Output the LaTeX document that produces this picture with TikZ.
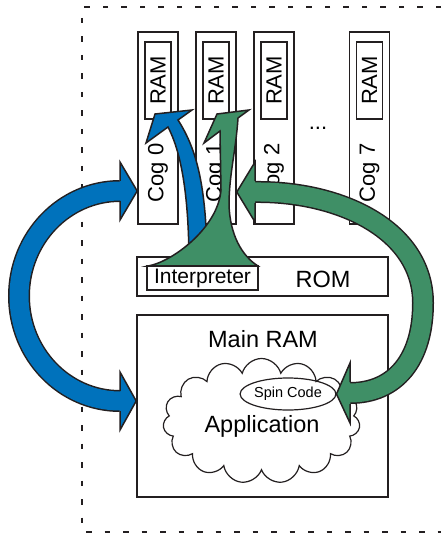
\documentclass[tikz,border=0pt]{standalone}
\usepackage{fontspec}
\setmainfont{Liberation Sans}
\usetikzlibrary{shapes.geometric, shapes.symbols, calc}

\definecolor{propblue}{RGB}{0,114,188}
\definecolor{propgreen}{RGB}{63,143,102}
\definecolor{ink}{RGB}{35,31,32}

\begin{document}
\begin{tikzpicture}[
        x=1pt, y=-1pt,
        box/.style={rectangle, draw=ink, line width=1.6pt, inner sep=0pt},
        cog/.style={box, minimum width=40pt, minimum height=192pt},
        ram/.style={box, rotate=90, minimum width=77pt, minimum height=26pt, font=\fontsize{22}{24}\selectfont},
        cogname/.style={rotate=90, font=\fontsize{22}{24}\selectfont},
        txt/.style={font=\fontsize{23.5}{26}\selectfont},
        band/.style={line width=22pt, draw=ink},
        bandfill/.style={line width=19pt},
        head/.style={draw=ink, line width=1.5pt},
        flare/.style={draw=ink, line width=1.5pt, line join=miter}
    ]
        \useasboundingbox (0,0) rectangle (441,537);

        % Dotted chip outline
        \draw[ink, line width=2.7pt, dash pattern=on 5.5pt off 13pt] (441,7) -- (82,7) -- (82,532) -- (441,532);

        % Cogs
        \foreach \i/\x in {0/158, 1/216, 2/274, 7/369.5} {
            \node[cog] (cog\i) at (\x,128) {};
            \node[ram] (ram\i) at (\x,80.5) {RAM};
            \node[cogname] (name\i) at (\x,173) {Cog \i};
        }
        \node[font=\fontsize{22}{24}\selectfont, inner sep=0pt] (dots) at (318,128) {...};

        % ROM and Main RAM
        \node[box, minimum width=251pt, minimum height=39pt] (rom) at (262.5,276.5) {};
        \node[txt] (romname) at (323,279) {ROM};
        \node[box, minimum width=251pt, minimum height=182pt] (mainram) at (262.5,406) {};
        \node[txt] (mainname) at (263,339) {Main RAM};
        \node[cloud, draw=ink, line width=1.2pt, cloud puffs=15, aspect=1.6, minimum width=197pt, minimum height=125pt] (app) at (261.5,421) {};
        \node[txt] (appname) at (262,426) {Application};
        \node[ellipse, draw=ink, line width=1.2pt, inner sep=0pt, minimum width=82pt, minimum height=32pt, font=\fontsize{14.5}{16}\selectfont] (spin) at (288,394) {Spin Code};

        % Blue: Cog 0 <-> Main RAM
        \coordinate (bluetop) at (120,191);
        \coordinate (bluebot) at (120,401);
        \draw[band] (bluetop) arc[start angle=270, end angle=90, x radius=101, y radius=105];
        \draw[bandfill, propblue] (bluetop) arc[start angle=270, end angle=90, x radius=101, y radius=105];
        \fill[propblue] (120,162) -- (cog0.west |- bluetop) -- (120,220) -- cycle;
        \draw[head] (120,181) -- (120,162) -- (cog0.west |- bluetop) -- (120,220) -- (120,201);
        \fill[propblue] (120,372) -- (mainram.west |- bluebot) -- (120,430) -- cycle;
        \draw[head] (120,391) -- (120,372) -- (mainram.west |- bluebot) -- (120,430) -- (120,411);

        % Blue: Interpreter -> Cog 0 RAM
        \filldraw[flare, fill=propblue] (168,127) .. controls (180,150) and (189,190) .. (189,266)
            -- (207,266) .. controls (207,185) and (196,148) .. (178,120)
            -- (192,110) -- (155,114) -- (146,143) -- cycle;

        % Green: Interpreter -> Cog 1 RAM
        \filldraw[flare, fill=propgreen] (148,266) .. controls (172,262) and (218,228) .. (221,190)
            -- (220,131) -- (204,143) -- (217,114) -- (249,110) -- (238,118)
            .. controls (236,150) and (229,175) .. (229,205)
            .. controls (230,235) and (242,256) .. (258,266) -- cycle;
        \node[box, line width=1.9pt, minimum width=111pt, minimum height=24pt, font=\fontsize{21}{23}\selectfont] (interp) at (202.5,278) {Interpreter};

        % Green: Cog 1 <-> Spin Code
        \coordinate (greentop) at (255,192);
        \coordinate (greenbot) at (350,393);
        \draw[band] (greentop) .. controls (340,191) and (423,230) .. (423,303) .. controls (423,360) and (395,393) .. (greenbot);
        \draw[bandfill, propgreen] (greentop) .. controls (340,191) and (423,230) .. (423,303) .. controls (423,360) and (395,393) .. (greenbot);
        \fill[propgreen] (255,162) -- (cog1.east |- greentop) -- (255,222) -- cycle;
        \draw[head] (255,181) -- (255,162) -- (cog1.east |- greentop) -- (255,222) -- (255,203);
        \fill[propgreen] (350,363) -- (spin.east) -- (350,423) -- cycle;
        \draw[head] (350,382) -- (350,363) -- (spin.east) -- (350,423) -- (350,404);
\end{tikzpicture}
\end{document}
